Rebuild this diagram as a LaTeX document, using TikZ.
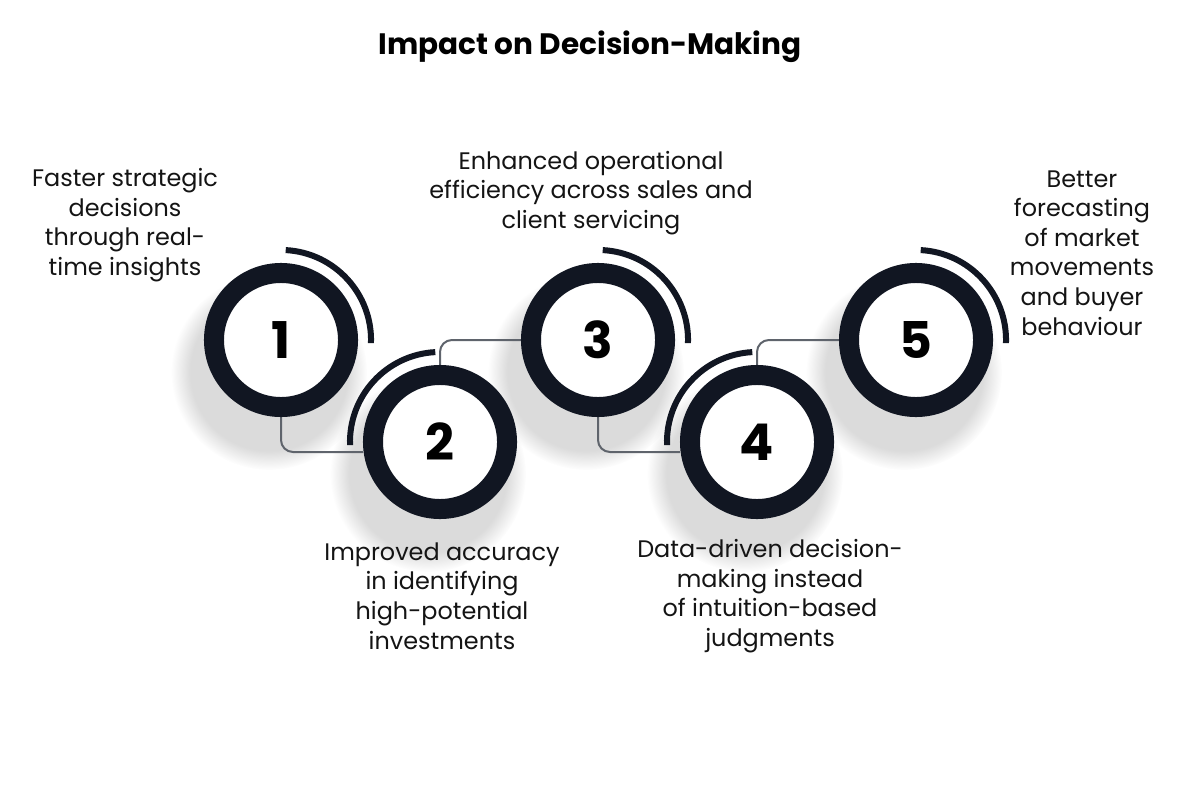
\documentclass[tikz,border=0pt]{standalone}
\usepackage{fontspec}
\setmainfont{Poppins}
\usetikzlibrary{positioning, backgrounds, fadings}
\definecolor{ringcol}{RGB}{17,22,34}
\definecolor{linecol}{RGB}{95,100,108}
\definecolor{txtcol}{RGB}{20,20,20}

\begin{document}
\begin{tikzpicture}[x=0.025cm, y=0.025cm,
		ring/.style={circle, draw=ringcol, line width=0.5cm, minimum size=3.35cm,
			fill=white, font=\fontsize{36}{40}\selectfont\bfseries, text=black},
		halo/.style={draw=ringcol, line width=0.15cm},
		conn/.style={draw=linecol, line width=0.05cm, rounded corners=0.3cm},
		txt/.style={align=center, text=txtcol, font=\fontsize{17}{21}\selectfont},
		shade/.style={fill=black, opacity=0.14, path fading=circle with fuzzy edge 20 percent}
	]
	\useasboundingbox (0,0) rectangle (1200,-800);

	\node[font=\fontsize{21}{25}\selectfont\bfseries, text=black] (title) at (590,-47) {Impact on Decision-Making};

	\node[ring] (c1) at (281,-340) {1};
	\node[ring] (c2) at (440,-442) {2};
	\node[ring] (c3) at (598,-340) {3};
	\node[ring] (c4) at (757,-442) {4};
	\node[ring] (c5) at (916,-340) {5};

	\draw[halo] (c1.center) ++(87:2.25cm) arc[start angle=87, end angle=-2, radius=2.25cm];
	\draw[halo] (c2.center) ++(93:2.25cm) arc[start angle=93, end angle=182, radius=2.25cm];
	\draw[halo] (c3.center) ++(87:2.25cm) arc[start angle=87, end angle=-2, radius=2.25cm];
	\draw[halo] (c4.center) ++(93:2.25cm) arc[start angle=93, end angle=182, radius=2.25cm];
	\draw[halo] (c5.center) ++(87:2.25cm) arc[start angle=87, end angle=-2, radius=2.25cm];

	\node[txt] (t1) at (125,-225) {Faster strategic\\decisions\\through real-\\time insights};
	\node[txt] (t2) at (442,-596) {Improved accuracy\\in identifying\\high-potential\\investments};
	\node[txt] (t3) at (591,-193) {Enhanced operational\\efficiency across sales and\\client servicing};
	\node[txt] (t4) at (770,-596) {Data-driven decision-\\making instead\\of intuition-based\\judgments};
	\node[txt] (t5) at (1082,-253) {Better\\forecasting\\of market\\movements\\and buyer\\behaviour};

	\begin{scope}[on background layer]
		\foreach \n in {1,...,5}
			\fill[shade] ([xshift=-0.3cm, yshift=-0.8cm]c\n.center) circle (2.45cm);
		\draw[conn] (c1.south) |- ([yshift=-0.25cm]c2.west);
		\draw[conn] (c2.north) |- (c3.west);
		\draw[conn] (c3.south) |- ([yshift=-0.25cm]c4.west);
		\draw[conn] (c4.north) |- (c5.west);
	\end{scope}
\end{tikzpicture}
\end{document}
